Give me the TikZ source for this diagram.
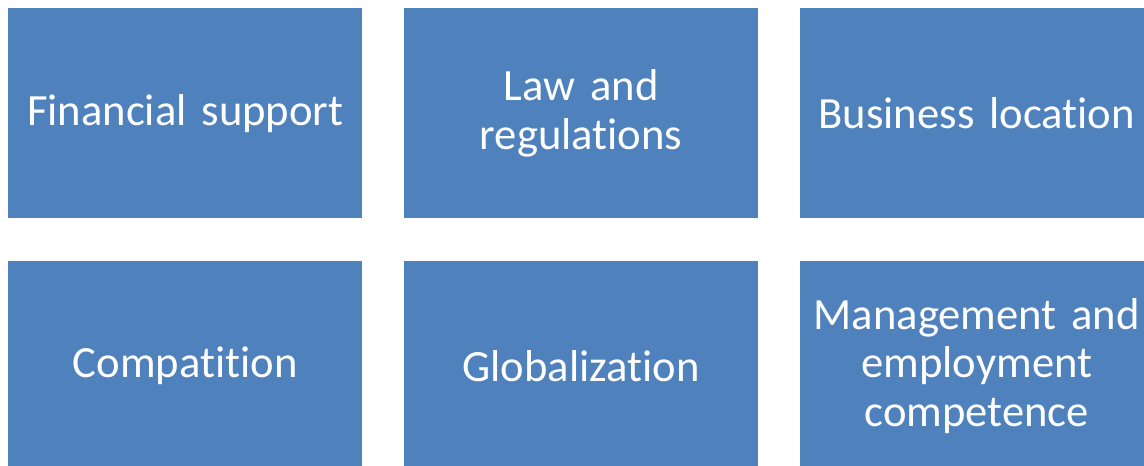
\documentclass[tikz,border=0pt]{standalone}
\usepackage{fontspec}
\setmainfont[Ligatures=NoCommon, WordSpace=0.8]{Carlito}
\usetikzlibrary{positioning}

\definecolor{boxblue}{HTML}{4F81BD}

\begin{document}
\begin{tikzpicture}[
      node distance=0.84cm and 0.82cm,
      factor/.style={
        fill=boxblue,
        rectangle,
        minimum width=7.08cm,
        minimum height=4.2cm,
        text width=6.9cm,
        inner sep=0pt,
        align=center,
        text=white,
        font=\fontsize{25.4}{27.4}\selectfont
      }
    ]
    \useasboundingbox (0,0) rectangle (22.88,-9.32);

    % Row 1
    \node[factor, anchor=north west] (fin) at (0.16,-0.16) {Financial support};
    \node[factor] (law) [right=of fin] {Law and\\regulations};
    \node[factor] (loc) [right=of law] {Business location};

    % Row 2
    \node[factor] (comp) [below=of fin] {Compatition};
    \node[factor] (glob) [right=of comp] {Globalization};
    \node[factor] (mgmt) [right=of glob] {Management and\\employment\\competence};
  \end{tikzpicture}
\end{document}
